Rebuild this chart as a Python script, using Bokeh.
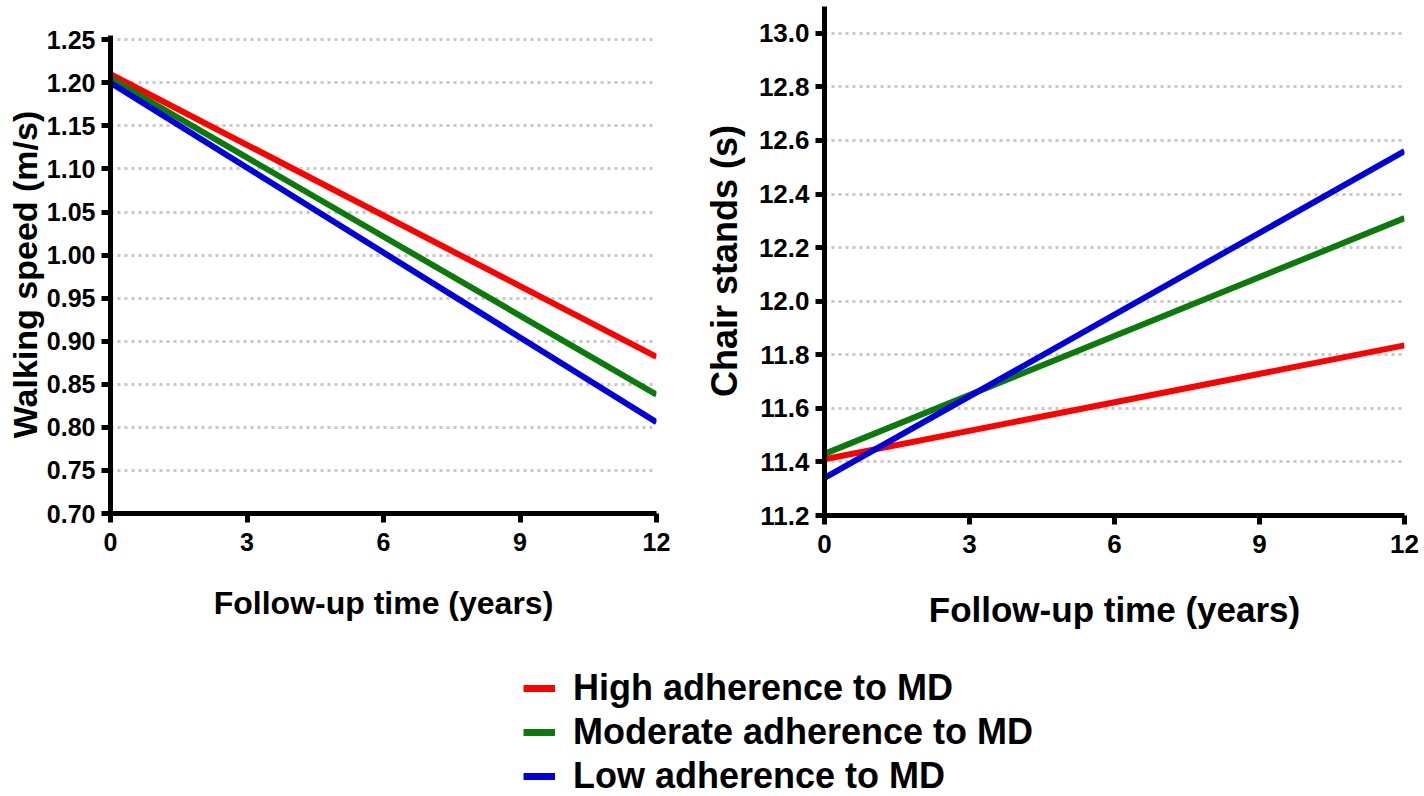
from bokeh.plotting import figure
from bokeh.layouts import column, row
from bokeh.models import Range1d, FixedTicker, Legend, LegendItem, NumeralTickFormatter
from bokeh.embed import file_html
from bokeh.resources import INLINE

# ---- data ----
years = [0, 12]
walk_high = [1.210, 0.882]
walk_moderate = [1.205, 0.838]
walk_low = [1.200, 0.806]
chair_high = [11.41, 11.835]
chair_moderate = [11.43, 12.31]
chair_low = [11.34, 12.56]

x_ticks = [0, 3, 6, 9, 12]
walk_ticks = [0.70, 0.75, 0.80, 0.85, 0.90, 0.95, 1.00, 1.05, 1.10, 1.15, 1.20, 1.25]
chair_ticks = [11.2, 11.4, 11.6, 11.8, 12.0, 12.2, 12.4, 12.6, 12.8, 13.0]

series_labels = ["High adherence to MD", "Moderate adherence to MD", "Low adherence to MD"]
series_colors = ["#ff0000", "#0b7a0b", "#0000dd"]

FONT = "Liberation Sans"


def style(p, tick_size, xtitle_size, ytitle_size, y_fmt, xlab_standoff, ylab_standoff):
    p.outline_line_color = None
    p.background_fill_color = "white"
    p.border_fill_color = "white"
    p.xgrid.grid_line_color = None
    p.ygrid.grid_line_color = "#c8c8c8"
    p.ygrid.grid_line_width = 3
    p.ygrid.grid_line_dash = "3 4"
    for ax in (p.xaxis[0], p.yaxis[0]):
        ax.axis_line_width = 5
        ax.axis_line_color = "black"
        ax.major_tick_line_width = 5
        ax.major_tick_line_color = "black"
        ax.major_tick_out = 9
        ax.major_tick_in = 0
        ax.minor_tick_line_color = None
        ax.major_label_text_font = FONT
        ax.major_label_text_font_style = "bold"
        ax.major_label_text_font_size = f"{tick_size}px"
        ax.major_label_text_color = "black"
        ax.axis_label_text_font = FONT
        ax.axis_label_text_font_style = "bold"
        ax.axis_label_text_color = "black"
    p.xaxis[0].axis_label_text_font_size = f"{xtitle_size}px"
    p.yaxis[0].axis_label_text_font_size = f"{ytitle_size}px"
    p.xaxis[0].major_label_standoff = 10
    p.yaxis[0].major_label_standoff = 6
    p.xaxis[0].ticker = FixedTicker(ticks=x_ticks)
    p.xaxis[0].axis_label_standoff = xlab_standoff
    p.yaxis[0].axis_label_standoff = ylab_standoff
    p.yaxis[0].formatter = NumeralTickFormatter(format=y_fmt)


# ---- left panel ----
p1 = figure(width=700, height=655, output_backend="svg", toolbar_location=None,
            x_range=Range1d(0, 12), y_range=Range1d(0.70, 1.255),
            min_border_left=110, min_border_right=44, min_border_top=35, min_border_bottom=142,
            x_axis_label="Follow-up time (years)", y_axis_label="Walking speed (m/s)")
style(p1, 25, 32, 34, "0.00", 31, 0)
p1.yaxis[0].ticker = FixedTicker(ticks=walk_ticks)
for ys, c in zip([walk_high, walk_moderate, walk_low], series_colors):
    p1.line(years, ys, line_color=c, line_width=6)

# ---- right panel ----
p2 = figure(width=724, height=655, output_backend="svg", toolbar_location=None,
            x_range=Range1d(0, 12), y_range=Range1d(11.2, 13.1),
            min_border_left=123, min_border_right=20, min_border_top=6, min_border_bottom=140,
            x_axis_label="Follow-up time (years)", y_axis_label="Chair stands (s)")
style(p2, 26, 35, 36, "0.0", 34, 11)
p2.yaxis[0].ticker = FixedTicker(ticks=chair_ticks)
for ys, c in zip([chair_high, chair_moderate, chair_low], series_colors):
    p2.line(years, ys, line_color=c, line_width=6)

# ---- legend ----
leg = figure(width=1424, height=141, output_backend="svg", toolbar_location=None,
             x_range=Range1d(0, 1), y_range=Range1d(0, 1), min_border=0)
leg.axis.visible = False
leg.grid.visible = False
leg.outline_line_color = None
items = []
for lab, c in zip(series_labels, series_colors):
    r = leg.line(x=[-5, -4], y=[-5, -5], line_color=c, line_width=7)
    items.append(LegendItem(label=lab, renderers=[r]))
legend = Legend(items=items, location=(523, -1), padding=0, spacing=2,
                glyph_width=32, glyph_height=20, label_standoff=18,
                label_text_font=FONT, label_text_font_style="bold",
                label_text_font_size="36px", label_text_color="black",
                border_line_color=None, background_fill_alpha=0, margin=0)
leg.add_layout(legend)

layout = column(row(column(p1), column(p2)), leg)
open("out.html", "w").write(file_html(layout, INLINE))
